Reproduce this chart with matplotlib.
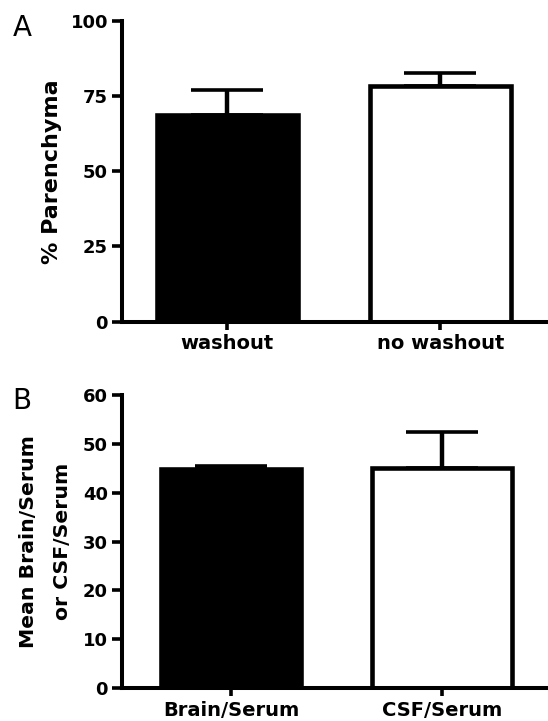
import numpy as np
import matplotlib
matplotlib.use('Agg')
import matplotlib.pyplot as plt

# panel A data
a_labels = ['washout', 'no washout']
a_means = [68.8, 78.3]
a_sem = [8.3, 4.3]
a_ticks = [0, 25, 50, 75, 100]

# panel B data
b_labels = ['Brain/Serum', 'CSF/Serum']
b_means = [44.9, 45.0]
b_sem = [0.6, 7.4]
b_ticks = [0, 10, 20, 30, 40, 50, 60]

bar_colors = ['black', 'white']

plt.rcParams['font.family'] = ['DejaVu Sans']

fig = plt.figure(figsize=(5.48, 7.21), dpi=100)
axA = fig.add_axes([0.2226, 0.5538, 0.7774, 0.4175])
axB = fig.add_axes([0.2226, 0.0454, 0.7774, 0.4068])


def draw_panel(ax, labels, means, sem, ticks, width, xlim):
    x = np.arange(len(labels))
    # GraphPad style: error bars point up only
    ax.errorbar(x, means, yerr=[np.zeros(len(sem)), sem], fmt='none',
                ecolor='black', elinewidth=3.2, capsize=26,
                capthick=2.6, zorder=1)
    ax.bar(x, means, width=width, color=bar_colors, edgecolor='black',
           linewidth=3.3, zorder=2)
    ax.set_xlim(*xlim)
    ax.set_ylim(ticks[0], ticks[-1])
    ax.set_yticks(ticks)
    ax.set_xticks(x)
    ax.set_xticklabels(labels, fontsize=14, fontweight='bold')
    for lab in ax.get_yticklabels():
        lab.set_fontsize(13)
        lab.set_fontweight('bold')
    for side in ['top', 'right']:
        ax.spines[side].set_visible(False)
    for side in ['left', 'bottom']:
        ax.spines[side].set_linewidth(2.9)
        ax.spines[side].set_zorder(3)
    ax.tick_params(axis='y', length=7, width=2.6, pad=3)
    ax.tick_params(axis='x', length=6, width=2.6, pad=3)


draw_panel(axA, a_labels, a_means, a_sem, a_ticks, 0.665, (-0.495, 1.505))
draw_panel(axB, b_labels, b_means, b_sem, b_ticks, 0.665, (-0.517, 1.502))

axA.set_ylabel('% Parenchyma', fontsize=16, fontweight='bold', labelpad=6)
axB.set_ylabel('Mean Brain/Serum\nor CSF/Serum', fontsize=14.7,
               fontweight='bold', labelpad=8, linespacing=2.0)

fig.text(13 / 548, 1 - 14 / 721, 'A', fontsize=20, va='top', ha='left')
fig.text(12 / 548, 1 - 387 / 721, 'B', fontsize=20, va='top', ha='left')

fig.savefig('out.png', dpi=100)
